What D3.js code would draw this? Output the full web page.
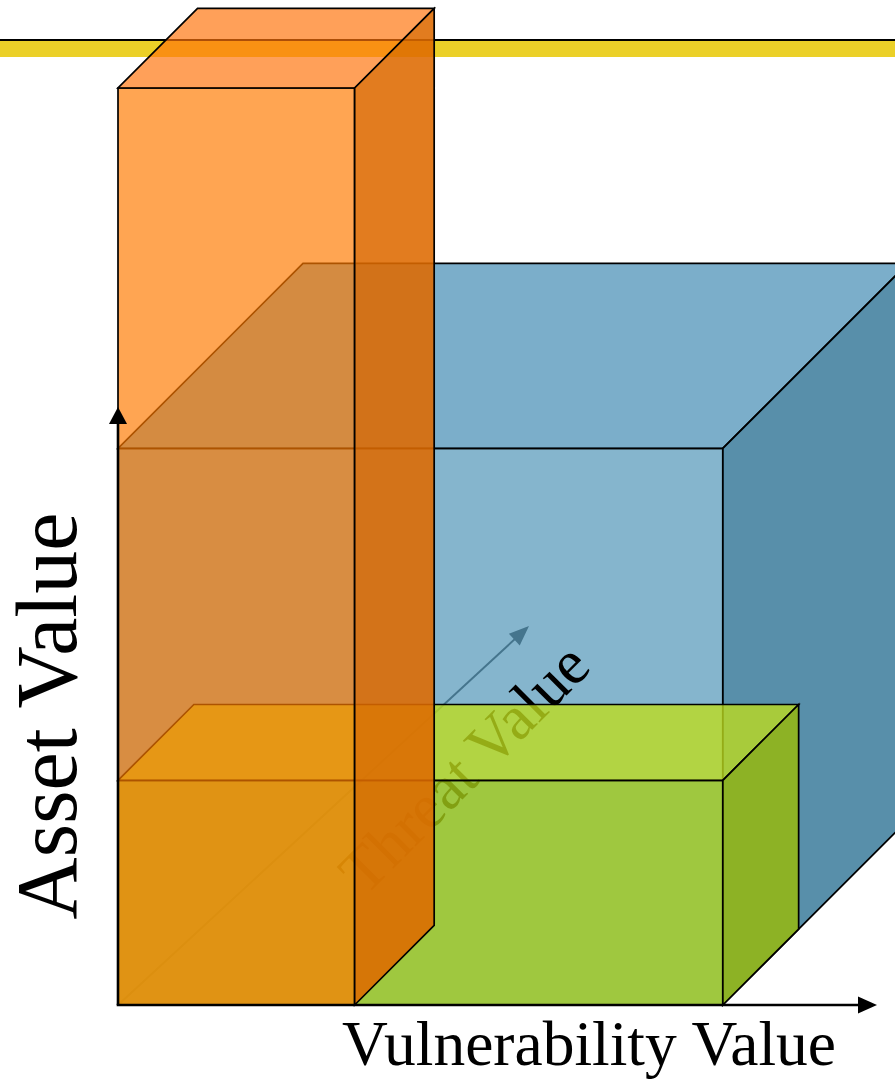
<!DOCTYPE html>
<html>
<head>
<meta charset="utf-8">
<script src="https://cdn.jsdelivr.net/npm/d3@7"></script>
<style>
  html, body { margin: 0; padding: 0; background: #fff; }
  svg { display: block; }
</style>
</head>
<body>
<svg id="chart" width="895" height="1083"></svg>
<script>
// ---- data (arbitrary units) ----
const boxNames      = ["Blue box", "Green box", "Orange box"];   // draw order: back to front
const vulnerability = [8.0, 8.0, 3.13];   // x extent
const asset         = [6.07, 2.45, 10.0]; // y extent
const threat        = [10.0, 4.1, 4.3];   // depth extent
const axisLabels    = ["Vulnerability Value", "Asset Value", "Threat Value"];

// face styles: [front, top, side] as [colour, opacity]
const boxStyles = [
  [["rgb(92,156,188)", 0.75], ["rgb(79,147,184)", 0.75], ["rgb(32,106,142)", 0.75]],
  [["rgb(166,205,23)", 0.78], ["rgb(191,221,28)", 0.78], ["rgb(156,189,0)", 0.78]],
  [["rgb(255,123,0)", 0.68],  ["rgb(255,115,10)", 0.68], ["rgb(222,106,0)", 0.88]]
];

const svg = d3.select("#chart");
const W = 895;
const origin = [118, 1005];

const sx = d3.scaleLinear().domain([0, 10]).range([0, 756]);
const sy = d3.scaleLinear().domain([0, 10]).range([0, 917]);
const sz = d3.scaleLinear().domain([0, 10]).range([0, 185]);

function P(x, y, z) {
  return [origin[0] + sx(x) + sz(z), origin[1] - sy(y) - sz(z)];
}
const poly = pts => "M" + pts.map(p => p.join(",")).join("L") + "Z";

// ---- yellow header bar ----
svg.append("rect").attr("x", 0).attr("y", 41).attr("width", W).attr("height", 16)
  .attr("fill", "#EBD028");
svg.append("line").attr("x1", 0).attr("x2", W).attr("y1", 40).attr("y2", 40)
  .attr("stroke", "#000").attr("stroke-width", 2);

// ---- threat axis (behind boxes) ----
const tStart = origin, tEnd = [529, 626];
const tAng = Math.atan2(tEnd[1] - tStart[1], tEnd[0] - tStart[0]);
function arrowHead(g, tip, ang, len, half, fill) {
  const bx = tip[0] - len * Math.cos(ang), by = tip[1] - len * Math.sin(ang);
  const nx = -Math.sin(ang), ny = Math.cos(ang);
  g.append("path")
    .attr("d", poly([tip, [bx + nx * half, by + ny * half], [bx - nx * half, by - ny * half]]))
    .attr("fill", fill);
}
const tAxis = svg.append("g");
tAxis.append("line")
  .attr("x1", tStart[0]).attr("y1", tStart[1])
  .attr("x2", tEnd[0] - 12 * Math.cos(tAng)).attr("y2", tEnd[1] - 12 * Math.sin(tAng))
  .attr("stroke", "#000").attr("stroke-width", 2);
arrowHead(tAxis, tEnd, tAng, 20, 8, "#000");

// ---- boxes ----
function drawBox(i) {
  const x = vulnerability[i], y = asset[i], z = threat[i];
  const st = boxStyles[i];
  const g = svg.append("g").attr("class", "box").attr("data-name", boxNames[i]);
  const front = [P(0, 0, 0), P(x, 0, 0), P(x, y, 0), P(0, y, 0)];
  const top   = [P(0, y, 0), P(x, y, 0), P(x, y, z), P(0, y, z)];
  const side  = [P(x, 0, 0), P(x, 0, z), P(x, y, z), P(x, y, 0)];
  [front, top, side].forEach((f, k) => {
    g.append("path").attr("d", poly(f))
      .attr("fill", st[k][0]).attr("fill-opacity", st[k][1])
      .attr("stroke", "#000").attr("stroke-width", 1.7)
      .attr("stroke-linejoin", "miter");
  });
}

drawBox(0); // blue

// threat label sits between the blue and green boxes
svg.append("text")
  .attr("transform", "translate(479,783) rotate(-45)")
  .attr("text-anchor", "middle")
  .attr("font-family", "'Liberation Serif', 'Times New Roman', serif")
  .attr("font-size", 63)
  .attr("fill", "#000")
  .text(axisLabels[2]);

drawBox(1); // green
drawBox(2); // orange

// ---- vulnerability & asset axes ----
const axes = svg.append("g");
const yTip = [origin[0], 407];
const xTip = [877, origin[1]];
axes.append("line").attr("x1", origin[0]).attr("y1", origin[1])
  .attr("x2", yTip[0]).attr("y2", yTip[1] + 12)
  .attr("stroke", "#000").attr("stroke-width", 2.6);
arrowHead(axes, yTip, -Math.PI / 2, 17, 9, "#000");
axes.append("line").attr("x1", origin[0] - 1.3).attr("y1", origin[1])
  .attr("x2", xTip[0] - 12).attr("y2", xTip[1])
  .attr("stroke", "#000").attr("stroke-width", 2.6);
arrowHead(axes, xTip, 0, 19, 8.5, "#000");

// ---- axis labels ----
svg.append("text")
  .attr("transform", "translate(76,716) rotate(-90)")
  .attr("text-anchor", "middle")
  .attr("font-family", "'Liberation Serif', 'Times New Roman', serif")
  .attr("font-size", 86)
  .attr("fill", "#000")
  .text(axisLabels[1]);

svg.append("text")
  .attr("x", 589).attr("y", 1065)
  .attr("text-anchor", "middle")
  .attr("font-family", "'Liberation Serif', 'Times New Roman', serif")
  .attr("font-size", 63.5)
  .attr("fill", "#000")
  .text(axisLabels[0]);
</script>
</body>
</html>
